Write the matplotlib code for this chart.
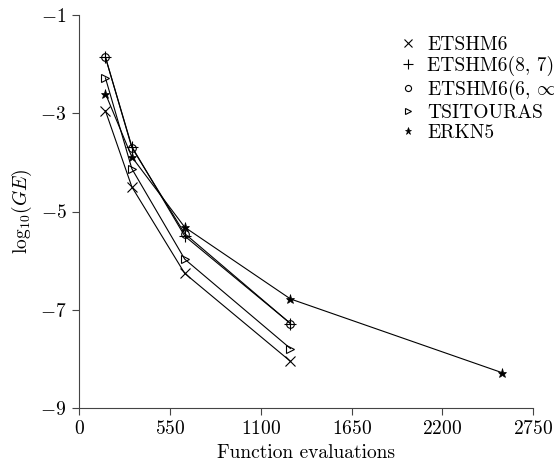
import matplotlib
matplotlib.use("Agg")
import matplotlib.pyplot as plt
from matplotlib.lines import Line2D

plt.rcParams['font.family'] = 'serif'
plt.rcParams['font.serif'] = ['cmr10']
plt.rcParams['mathtext.fontset'] = 'cm'
plt.rcParams['axes.formatter.use_mathtext'] = True
plt.rcParams['font.size'] = 14

# Data
x_etshm6 = [160, 320, 640, 1280]
y_etshm6 = [-2.95, -4.50, -6.26, -8.05]
x_e87 = [160, 320, 640, 1280]
y_e87 = [-1.86, -3.68, -5.50, -7.28]
x_e6inf = [160, 320, 640, 1280]
y_e6inf = [-1.86, -3.70, -5.45, -7.28]
x_tsit = [160, 320, 640, 1280]
y_tsit = [-2.28, -4.13, -5.97, -7.79]
x_erkn5 = [160, 320, 640, 1280, 2560]
y_erkn5 = [-2.60, -3.89, -5.32, -6.78, -8.28]

labels = ['ETSHM6', 'ETSHM6(8, 7)', r'ETSHM6(6, $\infty$)', 'TSITOURAS', 'ERKN5']
xticks = [0, 550, 1100, 1650, 2200, 2750]
yticks = [-9, -7, -5, -3, -1]

fig = plt.figure(figsize=(5.54, 4.67), dpi=100)
ax = fig.add_axes([79/554, 1-408/467, (533.3-79)/554, (408-15)/467])

lw = 0.8
styles = [
    dict(marker='x', ms=7, mew=0.8, mfc='none'),
    dict(marker='+', ms=9, mew=0.8, mfc='none'),
    dict(marker='o', ms=5.5, mew=0.8, mfc='none'),
    dict(marker='>', ms=6, mew=0.8, mfc='none'),
    dict(marker='*', ms=6.5, mew=0.5, mfc='black'),
]
series = [(x_etshm6, y_etshm6), (x_e87, y_e87), (x_e6inf, y_e6inf),
          (x_tsit, y_tsit), (x_erkn5, y_erkn5)]
handles = []
for (xs, ys), st, lab in zip(series, styles, labels):
    ax.plot(xs, ys, color='black', lw=lw, mec='black', **st)
    hst = dict(st)
    hst['ms'] = st['ms'] * 0.8
    handles.append(Line2D([], [], color='black', linestyle='None', mec='black', label=lab, **hst))

ax.set_xlim(0, 2750)
ax.set_ylim(-9, -1)
ax.set_xticks(xticks)
ax.set_yticks(yticks)
ax.set_xticklabels([r'$%d$' % v for v in xticks])
ax.set_yticklabels([r'$%d$' % v for v in yticks])
for s in ['top', 'right']:
    ax.spines[s].set_visible(False)
for s in ['left', 'bottom']:
    ax.spines[s].set_linewidth(0.8)
    ax.spines[s].set_color('#444444')
ax.tick_params(direction='out', length=5, width=0.8, color='#444444', labelsize=14, pad=4)

ax.set_xlabel('Function evaluations', fontsize=14, labelpad=4)
ax.set_ylabel(r'$\mathrm{log}_{10}(GE)$', fontsize=14, labelpad=4)

fig.legend(handles=handles, loc='upper left', bbox_to_anchor=(389/554, 1-26/467),
           frameon=False, borderpad=0, handlelength=1.0, handletextpad=0.45,
           labelspacing=0.1, fontsize=14)

fig.savefig('out.png', dpi=100)
